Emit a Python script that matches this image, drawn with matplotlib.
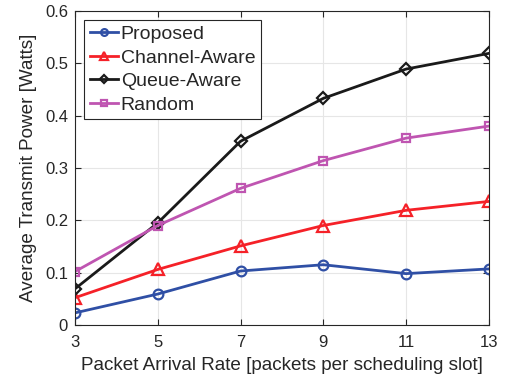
import matplotlib
matplotlib.use("Agg")
import matplotlib.pyplot as plt

plt.rcParams['font.family'] = ['Liberation Sans', 'DejaVu Sans']

# arrival rates [packets per scheduling slot]
rates = [3, 5, 7, 9, 11, 13]

# average transmit power [W]
proposed = [0.023, 0.059, 0.103, 0.115, 0.098, 0.107]
channel_aware = [0.052, 0.106, 0.151, 0.190, 0.219, 0.236]
queue_aware = [0.069, 0.195, 0.351, 0.433, 0.489, 0.519]
random_sched = [0.102, 0.190, 0.261, 0.314, 0.357, 0.380]

txt = '#262626'

fig = plt.figure(figsize=(5.07, 3.8), dpi=100)
ax = fig.add_axes([0.148, 0.145, 0.816, 0.826])

ax.plot(rates, proposed, color='#2f4fa5', marker='o', markersize=7, markerfacecolor='none',
        markeredgewidth=1.6, linewidth=2, label='Proposed')
ax.plot(rates, channel_aware, color='#f52128', marker='^', markersize=8, markerfacecolor='none',
        markeredgewidth=1.6, linewidth=2, label='Channel-Aware')
ax.plot(rates, queue_aware, color='#1a1a1a', marker='D', markersize=6.5, markerfacecolor='none',
        markeredgewidth=1.6, linewidth=2, label='Queue-Aware')
ax.plot(rates, random_sched, color='#bf55b1', marker='s', markersize=6, markerfacecolor='none',
        markeredgewidth=1.6, linewidth=2, label='Random')

ax.set_xlim(3, 13)
ax.set_ylim(0, 0.6)
ax.set_xticks(rates)
ax.set_yticks([0, 0.1, 0.2, 0.3, 0.4, 0.5, 0.6])
ax.set_yticklabels(['0', '0.1', '0.2', '0.3', '0.4', '0.5', '0.6'])
ax.grid(True, color='#e6e6e6', linewidth=0.8)
ax.set_axisbelow(True)
ax.tick_params(direction='in', labelsize=12, colors=txt, top=True, right=True, length=4)
ax.tick_params(axis='x', pad=7)
ax.tick_params(axis='y', pad=5)
for s in ax.spines.values():
    s.set_color(txt)

ax.set_xlabel('Packet Arrival Rate [packets per scheduling slot]', fontsize=13.6, color=txt, labelpad=5)
ax.set_ylabel('Average Transmit Power [Watts]', fontsize=13.6, color=txt, labelpad=6)

leg = ax.legend(loc='upper left', fontsize=14, handlelength=1.45, handletextpad=0.15,
                borderpad=0.3, labelspacing=0.3, borderaxespad=0.45, markerscale=0.7,
                fancybox=False, framealpha=1)
leg.get_frame().set_edgecolor(txt)
leg.get_frame().set_linewidth(0.8)
for t in leg.get_texts():
    t.set_color(txt)

fig.savefig('out.png', dpi=100)
